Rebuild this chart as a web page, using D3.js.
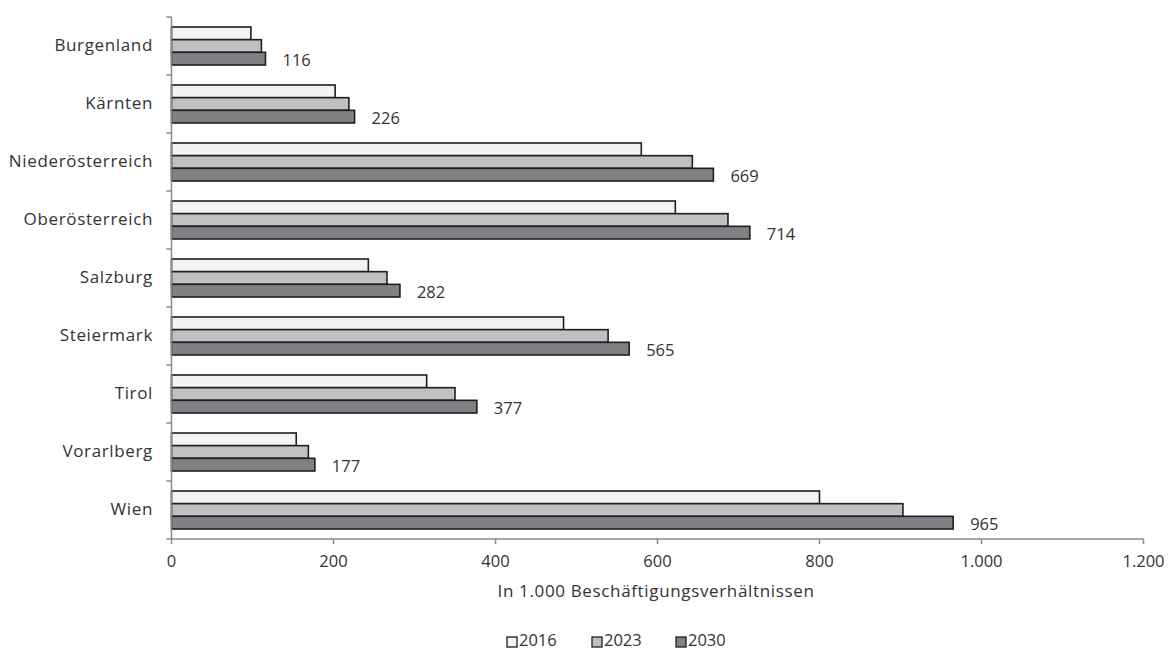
<!DOCTYPE html>
<html><head><meta charset="utf-8">
<script src="https://cdn.jsdelivr.net/npm/d3@7"></script>
<style>
body{margin:0;background:#fff;}
text{font-family:"Open Sans","DejaVu Sans",sans-serif;fill:#333;}
</style></head>
<body><svg id="c" width="1169" height="650"></svg>
<script>
const categories = ["Burgenland","Kärnten","Niederösterreich","Oberösterreich","Salzburg","Steiermark","Tirol","Vorarlberg","Wien"];
const seriesNames = ["2016","2023","2030"];
const values2016 = [98,202,580,622,243,484,315,154,800];
const values2023 = [111,219,643,687,266,539,350,169,903];
const values2030 = [116,226,669,714,282,565,377,177,965];
const xTicks = [0,200,400,600,800,1000,1200];
const xTickLabels = ["0","200","400","600","800","1.000","1.200"];
const xTitle = "In 1.000 Beschäftigungsverhältnissen";
const colors = ["#f2f3f2","#bfc0c2","#808184"];

(function(){
const series = [values2016, values2023, values2030];
const svg = d3.select("#c");
const pL = 171.5, pR = 1143.5, pT = 17, pB = 539;
const fsText = 17, lsText = 0.65, fsNum = 16.5;

const x = d3.scaleLinear().domain([0,1200]).range([pL,pR]);
const y = d3.scaleBand().domain(categories).range([pT,pB]).paddingInner(0.345).paddingOuter(0.1725);
const ys = d3.scaleBand().domain(seriesNames).range([0,y.bandwidth()]).padding(0);

categories.forEach((c,i)=>{
  seriesNames.forEach((s,j)=>{
    svg.append("rect")
      .attr("x", x(0))
      .attr("y", y(c)+ys(s))
      .attr("width", x(series[j][i])-x(0))
      .attr("height", ys.bandwidth())
      .attr("fill", colors[j])
      .attr("stroke", "#1e1e1e")
      .attr("stroke-width", 1.6);
  });
  svg.append("text")
    .attr("x", x(values2030[i]) + 17)
    .attr("y", y(c)+ys("2030")+ys.bandwidth()/2 + 3)
    .attr("dominant-baseline","middle")
    .attr("font-size", fsNum)
    .text(values2030[i]);
});

const axisColor = "#8a8a8a";
svg.append("line").attr("x1",pL).attr("x2",pL).attr("y1",pT).attr("y2",pB)
  .attr("stroke",axisColor).attr("stroke-width",1.5);
const step = y.step();
for(let k=0;k<=categories.length;k++){
  const yy = pT + k*step;
  svg.append("line").attr("x1",pL-5).attr("x2",pL).attr("y1",yy).attr("y2",yy)
    .attr("stroke",axisColor).attr("stroke-width",1.5);
}
categories.forEach(c=>{
  svg.append("text").attr("x",153).attr("y",y(c)+y.bandwidth()/2)
    .attr("text-anchor","end").attr("dominant-baseline","middle")
    .attr("font-size",fsText).attr("letter-spacing",lsText).text(c);
});

svg.append("line").attr("x1",pL).attr("x2",pR).attr("y1",pB).attr("y2",pB)
  .attr("stroke",axisColor).attr("stroke-width",1.5);
xTicks.forEach((t,i)=>{
  svg.append("line").attr("x1",x(t)).attr("x2",x(t)).attr("y1",pB).attr("y2",pB+5)
    .attr("stroke",axisColor).attr("stroke-width",1.5);
  svg.append("text").attr("x",x(t)).attr("y",563).attr("text-anchor","middle")
    .attr("dominant-baseline","middle").attr("font-size",fsNum).text(xTickLabels[i]);
});
svg.append("text").attr("x",656).attr("y",592).attr("text-anchor","middle")
  .attr("dominant-baseline","middle").attr("font-size",fsText).attr("letter-spacing",lsText).text(xTitle);

const legX = [507,592,676];
seriesNames.forEach((s,j)=>{
  svg.append("rect").attr("x",legX[j]).attr("y",637).attr("width",10).attr("height",10)
    .attr("fill",colors[j]).attr("stroke","#1e1e1e").attr("stroke-width",1.3);
  svg.append("text").attr("x",legX[j]+12).attr("y",642).attr("dominant-baseline","middle")
    .attr("font-size",fsNum).text(s);
});
})();
</script></body></html>
